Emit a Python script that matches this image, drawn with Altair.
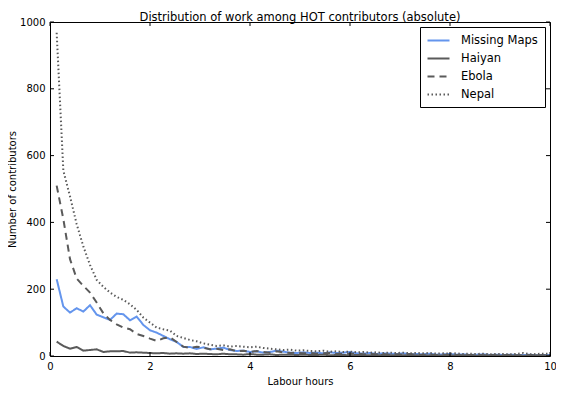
import altair as alt
import pandas as pd

# 8-minute bins, expressed in hours (75 bins up to 10 h)
hours = [round(m / 60, 4) for m in range(8, 601, 8)]

series = ["Missing Maps", "Haiyan", "Ebola", "Nepal"]

missing_maps = [
    230, 148, 130, 143, 133, 152, 124, 116, 108, 127,
    125, 107, 118, 93, 77, 70, 60, 50, 42, 27,
    27, 21, 26, 20, 22, 25, 18, 15, 16, 12,
    14, 10, 12, 16, 13, 10, 9, 11, 9, 10,
    8, 11, 9, 10, 12, 8, 7, 9, 6, 8,
    7, 6, 8, 5, 6, 5, 7, 4, 5, 6,
    4, 5, 3, 4, 5, 3, 4, 3, 4, 3,
    3, 4, 2, 3, 3,
]
haiyan = [
    43, 30, 22, 27, 16, 18, 20, 12, 14, 14,
    15, 10, 11, 10, 9, 8, 9, 7, 8, 7,
    8, 6, 7, 6, 5, 7, 5, 5, 4, 6,
    4, 4, 5, 3, 4, 4, 3, 4, 3, 3,
    4, 2, 3, 3, 2, 3, 3, 2, 2, 3,
    2, 2, 2, 3, 2, 1, 2, 2, 1, 2,
    1, 2, 2, 1, 1, 2, 1, 1, 2, 1,
    1, 1, 2, 1, 1,
]
ebola = [
    510, 410, 290, 232, 210, 190, 160, 128, 108, 95,
    85, 80, 66, 60, 52, 45, 53, 56, 42, 28,
    24, 28, 25, 20, 22, 18, 20, 14, 16, 12,
    15, 12, 10, 14, 11, 9, 10, 8, 9, 7,
    8, 9, 6, 7, 6, 8, 5, 6, 5, 6,
    4, 5, 4, 6, 3, 4, 4, 3, 4, 3,
    3, 2, 3, 3, 2, 3, 2, 2, 3, 2,
    2, 3, 2, 2, 2,
]
nepal = [
    968, 555, 478, 395, 328, 273, 228, 207, 190, 177,
    168, 155, 138, 115, 100, 85, 80, 76, 60, 54,
    48, 44, 38, 34, 30, 32, 28, 30, 28, 26,
    28, 24, 22, 20, 18, 19, 16, 17, 15, 14,
    16, 13, 14, 12, 13, 11, 12, 10, 11, 9,
    10, 9, 10, 8, 9, 8, 9, 7, 8, 7,
    8, 6, 7, 6, 7, 5, 6, 6, 5, 6,
    9, 5, 6, 7, 6,
]

x_ticks = [0, 2, 4, 6, 8, 10]
y_ticks = [0, 200, 400, 600, 800, 1000]

rows = []
for name, vals in zip(series, [missing_maps, haiyan, ebola, nepal]):
    for h, v in zip(hours, vals):
        rows.append({"hours": h, "count": v, "project": name})
df = pd.DataFrame(rows)

W, H = 500, 334
FONT = "DejaVu Sans"
x_scale = alt.Scale(domain=[0, 10], nice=False, zero=False)
y_scale = alt.Scale(domain=[0, 1000], nice=False)
x_axis = alt.Axis(title="Labour hours", values=x_ticks, format="d", labelFlush=False)
y_axis = alt.Axis(title="Number of contributors", values=y_ticks, format="d", labelFlush=False)

colors = ["#6495ED", "#5a5a5a", "#5a5a5a", "#5a5a5a"]
dashes = [[1, 0], [1, 0], [7, 5], [1.5, 2.5]]
widths = [2, 2, 2, 1.5]

legend = alt.Legend(
    title=None,
    orient="top-right",
    offset=5,
    strokeColor="black",
    fillColor="white",
    padding=7,
    cornerRadius=0,
    symbolType="M-2,0L2,0",
    symbolSize=121,
    symbolOffset=5,
    symbolStrokeWidth=2,
    labelFont=FONT,
    labelFontSize=11.5,
    labelColor="black",
    labelOffset=16,
    rowPadding=6,
)

lines = alt.Chart(df).mark_line(clip=True).encode(
    x=alt.X("hours:Q", scale=x_scale, axis=x_axis),
    y=alt.Y("count:Q", scale=y_scale, axis=y_axis),
    color=alt.Color("project:N", scale=alt.Scale(domain=series, range=colors), legend=legend),
    strokeDash=alt.StrokeDash("project:N", scale=alt.Scale(domain=series, range=dashes), legend=legend),
    strokeWidth=alt.StrokeWidth("project:N", scale=alt.Scale(domain=series, range=widths), legend=None),
)

xt = pd.DataFrame({"hours": x_ticks})
yt = pd.DataFrame({"count": y_ticks})

xb = alt.Chart(xt).mark_rule(color="black", strokeWidth=1).encode(
    x=alt.X("hours:Q", scale=x_scale, axis=x_axis), y=alt.value(H), y2=alt.value(H - 4))
xtop = alt.Chart(xt).mark_rule(color="black", strokeWidth=1).encode(
    x=alt.X("hours:Q", scale=x_scale, axis=x_axis), y=alt.value(0), y2=alt.value(4))
yl = alt.Chart(yt).mark_rule(color="black", strokeWidth=1).encode(
    y=alt.Y("count:Q", scale=y_scale, axis=y_axis), x=alt.value(0), x2=alt.value(4))
yr = alt.Chart(yt).mark_rule(color="black", strokeWidth=1).encode(
    y=alt.Y("count:Q", scale=y_scale, axis=y_axis), x=alt.value(W - 4), x2=alt.value(W))

chart = alt.layer(lines, xb, xtop, yl, yr).properties(
    width=W,
    height=H,
    autosize=alt.AutoSizeParams(type="none"),
    padding={"left": 42, "top": 14, "right": 6, "bottom": 36},
    title=alt.TitleParams(
        "Distribution of work among HOT contributors (absolute)",
        font=FONT, fontSize=11.5, fontWeight="normal", color="black",
        anchor="middle", offset=0, dy=6,
    ),
).configure_view(
    stroke="black", strokeWidth=1
).configure_axis(
    domain=False, grid=False, ticks=False,
    labelFont=FONT, labelFontSize=10, labelColor="black",
    titleFont=FONT, titleFontSize=10, titleFontWeight="normal", titleColor="black",
    labelPadding=5,
).configure_axisX(
    titlePadding=5,
).configure_axisY(
    titlePadding=2,
)

chart.save("out.html", embed_options={"renderer": "svg", "actions": False})
